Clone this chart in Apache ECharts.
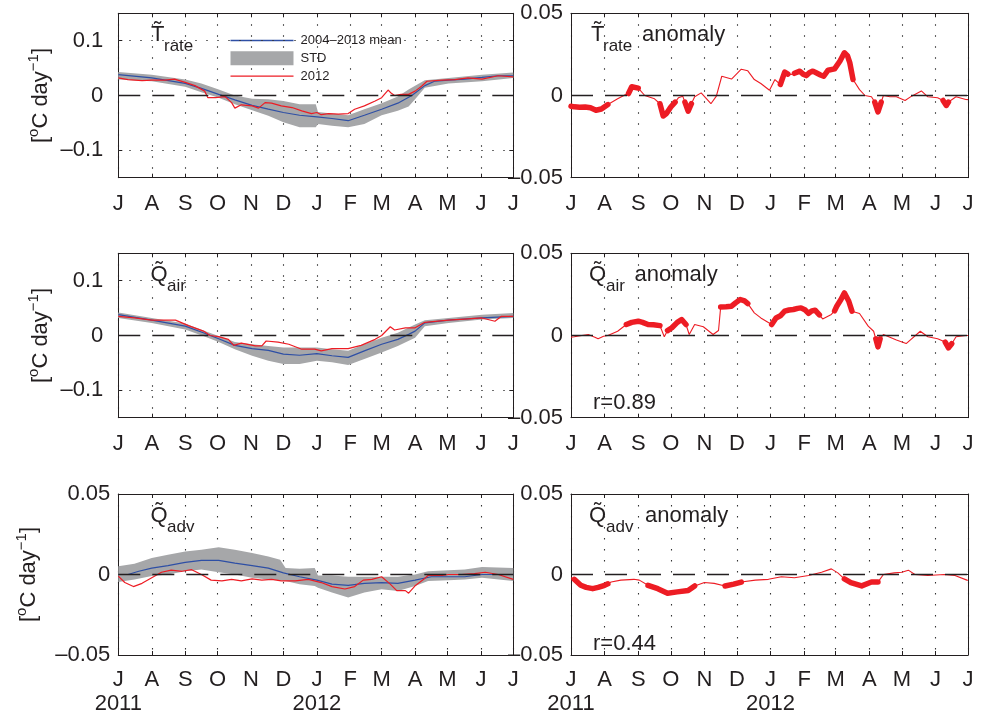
<!DOCTYPE html>
<html><head><meta charset="utf-8">
<script src="https://cdn.jsdelivr.net/npm/echarts@6/dist/echarts.min.js"></script>
<style>html,body{margin:0;padding:0;background:#fff}#c{width:981px;height:716px}</style>
</head><body><div id="c"></div>
<script>
// ---------- tick labels ----------
const monthLetters = ['J','A','S','O','N','D','J','F','M','A','M','J','J'];
const monthStartDays = [0,31,62,92,123,153,184,215,244,275,305,336,366]; // days since 1 Jul 2011
const yearLabels = {0:'2011', 184:'2012'};
const yTicksWide = [-0.1, 0, 0.1];
const yTicksNarrow = [-0.05, 0, 0.05];

// ---------- T_rate ----------
const trateMean = [[0,0.038],[31,0.032],[62,0.022],[77,0.013],[93,0.002],[108,-0.008],[124,-0.018],[139,-0.025],[153,-0.031],[168,-0.036],[184,-0.039],[198,-0.042],[213,-0.046],[228,-0.036],[244,-0.025],[259,-0.014],[272,0.000],[284,0.018],[293,0.026],[306,0.028],[321,0.030],[337,0.033],[352,0.036],[366,0.036]];
const trateBandDays  = [0,31,62,77,93,108,124,139,153,168,183,185,198,213,228,244,259,269,275,284,306,337,366];
const trateBandUpper = [0.043,0.038,0.029,0.022,0.011,0.000,-0.006,-0.007,-0.010,-0.016,-0.016,-0.030,-0.033,-0.036,-0.025,-0.014,-0.002,0.011,0.018,0.028,0.032,0.038,0.042];
const trateBandLower = [0.029,0.026,0.016,0.006,-0.004,-0.016,-0.027,-0.037,-0.049,-0.058,-0.058,-0.052,-0.055,-0.058,-0.052,-0.036,-0.028,-0.020,-0.007,0.014,0.022,0.026,0.032];
const trate2012 = [[0,0.032],[9,0.029],[22,0.027],[31,0.028],[43,0.028],[52,0.030],[62,0.024],[71,0.018],[80,0.008],[83,-0.004],[90,-0.004],[99,-0.002],[105,-0.013],[108,-0.023],[114,-0.017],[124,-0.019],[130,-0.023],[136,-0.013],[142,-0.014],[151,-0.019],[161,-0.022],[170,-0.028],[179,-0.033],[184,-0.031],[188,-0.035],[195,-0.033],[204,-0.034],[213,-0.033],[219,-0.025],[228,-0.019],[238,-0.010],[244,-0.004],[250,0.010],[253,0.004],[256,0.000],[262,0.002],[269,0.002],[275,0.008],[281,0.017],[286,0.026],[300,0.028],[312,0.029],[324,0.032],[337,0.030],[352,0.036],[366,0.034]];
const trateAnom = [[0,-0.0065],[3,-0.0069],[8,-0.0072],[13,-0.007],[18,-0.0075],[23,-0.009],[28,-0.0082],[34,-0.0055],[43,-0.002],[50,0.0005],[53,0.0012],[56,0.0053],[62,0.0045],[68,0],[77,-0.002],[82,-0.005],[85,-0.0125],[88,-0.011],[92,-0.007],[96,-0.004],[99,-0.0014],[103,-0.0004],[105,-0.004],[108,-0.0095],[111,-0.005],[114,-0.0008],[120,0.0016],[129,-0.005],[134,-0.0004],[139,0.0117],[148,0.010],[157,0.016],[163,0.015],[169,0.0097],[175,0.0073],[183,0.0032],[188,0.0097],[193,0.0067],[197,0.0142],[200,0.013],[203,0.0128],[206,0.0135],[211,0.0148],[214,0.013],[217,0.0121],[220,0.014],[223,0.0148],[226,0.0138],[230,0.0125],[233,0.0117],[237,0.0154],[243,0.0162],[248,0.021],[252,0.026],[255,0.024],[257,0.020],[260,0.0097],[266,0.0036],[271,0],[277,-0.0008],[280,-0.004],[283,-0.010],[286,-0.004],[288,0],[294,-0.0008],[300,-0.0008],[308,-0.003],[314,-0.0004],[323,0.0028],[329,-0.0008],[338,-0.0014],[343,-0.003],[346,-0.006],[348,-0.004],[355,-0.0008],[364,-0.0024],[366,-0.0025]];
const trateAnomSig = [[0,34],[53,62],[82,96],[105,111],[193,200],[206,214],[217,230],[233,260],[280,286],[343,348]];

// ---------- Q_air ----------
const qairMean = [[0,0.038],[31,0.028],[62,0.017],[80,0.004],[93,-0.006],[108,-0.018],[124,-0.024],[139,-0.027],[153,-0.034],[168,-0.036],[184,-0.033],[198,-0.037],[213,-0.040],[228,-0.028],[244,-0.016],[259,-0.007],[269,0.002],[275,0.008],[284,0.023],[306,0.028],[337,0.032],[366,0.035]];
const qairBandDays  = [0,31,62,80,93,108,124,139,153,168,184,198,213,228,244,259,275,284,306,337,366];
const qairBandUpper = [0.042,0.032,0.022,0.008,-0.001,-0.012,-0.016,-0.019,-0.022,-0.022,-0.022,-0.025,-0.028,-0.016,-0.004,0.005,0.020,0.028,0.032,0.038,0.041];
const qairBandLower = [0.032,0.023,0.011,-0.002,-0.012,-0.025,-0.037,-0.046,-0.052,-0.052,-0.046,-0.049,-0.054,-0.043,-0.031,-0.019,-0.004,0.017,0.023,0.029,0.032];
const qair2012 = [[0,0.035],[15,0.032],[31,0.028],[53,0.028],[65,0.018],[79,0.008],[85,0.000],[93,-0.002],[102,-0.007],[107,-0.018],[114,-0.014],[127,-0.019],[133,-0.019],[137,-0.010],[148,-0.012],[158,-0.016],[170,-0.025],[182,-0.025],[188,-0.028],[198,-0.024],[213,-0.024],[225,-0.018],[238,-0.007],[244,0.000],[252,0.016],[256,0.010],[266,0.014],[275,0.014],[284,0.024],[306,0.028],[321,0.030],[337,0.032],[349,0.026],[355,0.035],[366,0.035]];
const qairAnom = [[0,-0.001],[3,-0.0008],[10,0],[16,0.0006],[22,-0.001],[25,-0.002],[30,-0.0005],[34,0],[43,0.0026],[51,0.0067],[56,0.008],[62,0.0087],[66,0.008],[71,0.0067],[76,0.0065],[82,0.006],[86,-0.0008],[89,0.003],[93,0.0047],[98,0.008],[102,0.0097],[106,0.0067],[109,0.0006],[114,0.0067],[122,0.0053],[131,0.0006],[136,0.003],[138,0.0174],[143,0.0175],[148,0.0178],[152,0.020],[156,0.0219],[160,0.021],[163,0.0194],[169,0.0138],[175,0.0107],[185,0.0067],[189,0.0107],[193,0.012],[197,0.0148],[201,0.0155],[205,0.0158],[209,0.0165],[212,0.0168],[216,0.0155],[219,0.0134],[222,0.015],[225,0.0154],[229,0.0125],[232,0.0101],[240,0.0128],[243,0.015],[245,0.0178],[249,0.022],[252,0.0259],[256,0.021],[259,0.0148],[266,0.0134],[274,0.0057],[279,0.0026],[281,-0.002],[283,-0.0069],[285,-0.002],[288,0.0006],[300,-0.0028],[309,-0.0049],[322,0.0026],[329,-0.0008],[338,-0.002],[345,-0.004],[348,-0.0075],[351,-0.005],[355,-0.0008],[364,0],[366,0]];
const qairAnomSig = [[51,82],[89,106],[138,163],[185,216],[219,229],[243,259],[281,285],[345,351]];

// ---------- Q_adv ----------
const qadvMean = [[0,0],[9,0],[19,0.002],[31,0.004],[46,0.0055],[62,0.0075],[77,0.0088],[93,0.0088],[108,0.0071],[124,0.0055],[139,0.004],[153,0.001],[168,-0.0014],[184,-0.0035],[198,-0.006],[213,-0.0067],[228,-0.0055],[244,-0.005],[259,-0.0055],[275,-0.0035],[290,-0.0014],[306,-0.0014],[321,-0.0014],[337,0],[366,0]];
const qadvBandDays  = [0,15,31,46,62,77,93,108,124,139,150,155,168,182,185,198,213,228,244,259,275,287,306,321,337,366];
const qadvBandUpper = [0.0051,0.0067,0.0102,0.0122,0.0143,0.0153,0.0169,0.0153,0.0133,0.0112,0.0092,0.0041,0.0035,0.0041,-0.0006,-0.0006,-0.0014,-0.0014,-0.0014,-0.0014,0,0.002,0.0027,0.0031,0.0047,0.0041];
const qadvBandLower = [-0.0047,-0.0031,-0.001,0,0.002,0.0031,0.0014,0,-0.002,-0.0031,-0.0035,-0.0041,-0.0061,-0.0071,-0.0082,-0.0112,-0.0143,-0.0112,-0.0092,-0.0102,-0.0071,-0.0041,-0.0035,-0.0031,-0.002,-0.0041];
const qadv2012 = [[0,-0.001],[6,-0.005],[14,-0.0075],[22,-0.0055],[31,-0.002],[40,0.0014],[49,0.0027],[59,0.002],[68,0.003],[77,0],[86,-0.0035],[96,-0.004],[105,-0.003],[114,-0.004],[124,-0.0027],[133,-0.0035],[142,-0.003],[151,-0.004],[164,-0.004],[176,-0.003],[188,-0.005],[198,-0.0075],[210,-0.009],[219,-0.0075],[227,-0.0035],[235,-0.003],[244,-0.0014],[252,-0.006],[258,-0.010],[266,-0.010],[269,-0.0116],[275,-0.007],[283,-0.003],[287,-0.0006],[300,-0.0006],[306,0],[318,0],[330,0.0006],[340,0.0014],[352,0],[366,-0.003]];
const qadvAnom = [[0,-0.002],[3,-0.003],[9,-0.0067],[14,-0.008],[20,-0.0088],[25,-0.008],[31,-0.0067],[34,-0.0058],[37,-0.0047],[46,-0.0035],[58,-0.003],[63,-0.0035],[71,-0.0067],[80,-0.0088],[89,-0.0116],[98,-0.0108],[108,-0.010],[114,-0.0071],[123,-0.005],[132,-0.0055],[142,-0.0071],[150,-0.006],[157,-0.0047],[170,-0.0035],[182,-0.003],[194,-0.0014],[206,-0.002],[219,-0.0006],[231,0.0014],[240,0.0035],[246,0.001],[252,-0.0027],[258,-0.005],[268,-0.0071],[277,-0.0047],[283,-0.0047],[288,0],[298,0.001],[305,0.0014],[311,0.0027],[317,0],[329,-0.0006],[344,0],[354,-0.0006],[365,-0.0035],[366,-0.0036]];
const qadvAnomSig = [[3,34],[71,114],[142,157],[252,283]];

// ---------- styling ----------
const FONT = 'Liberation Sans';
const INK = '#231f20';
const RED = '#ed1c24';
const BLUE = '#2e4fa5';
const GREY = '#a6a7a9';
const LINE_ICON = 'path://M0 0H63V1.3H0Z';

const categories = Array.from({length: 367}, (_, i) => String(i));
const isMonth = (i) => monthStartDays.indexOf(i) >= 0;

const gridLefts = [118.3, 571];
const gridWidths = [395, 397];
const gridTops = [13.3, 253.3, 494];
const gridHeights = [164.4, 164.4, 163.7];

const grids = [], xAxes = [], yAxes = [], series = [];

function addPanel(gi, row, col, cfg) {
  grids.push({left: gridLefts[col], top: gridTops[row], width: gridWidths[col], height: gridHeights[row], show: false});
  const withYears = row === 2;
  xAxes.push({
    type: 'category', gridIndex: gi, data: categories, boundaryGap: false, position: 'bottom',
    axisLine: {show: true, onZero: false, lineStyle: {color: INK, width: 1}},
    axisTick: {show: true, inside: true, length: 4, interval: (i) => isMonth(i), lineStyle: {color: INK}},
    axisLabel: {show: true, interval: (i) => isMonth(i), margin: row === 2 ? 13 : 14, fontSize: 22, lineHeight: 24,
      fontFamily: FONT, color: INK,
      formatter: (v) => { const d = Number(v); const k = monthStartDays.indexOf(d); if (k < 0) return '';
        return (withYears && yearLabels[d]) ? monthLetters[k] + '\n' + yearLabels[d] : monthLetters[k]; }},
    splitLine: {show: true, interval: (i) => isMonth(i), lineStyle: {type: [1.4, 9.6], color: '#333', width: 1.1}}
  });
  xAxes.push({
    type: 'category', gridIndex: gi, data: categories, boundaryGap: false, position: 'top',
    axisLine: {show: true, onZero: false, lineStyle: {color: INK, width: 1}},
    axisTick: {show: true, inside: true, length: 4, interval: (i) => isMonth(i), lineStyle: {color: INK}},
    axisLabel: {show: false}, splitLine: {show: false}
  });
  const yl = {
    type: 'value', gridIndex: gi, min: cfg.ymin, max: cfg.ymax, position: 'left',
    axisLine: {show: true, onZero: false, lineStyle: {color: INK, width: 1}},
    axisTick: {show: true, inside: true, length: 4, customValues: cfg.ticks, lineStyle: {color: INK}},
    axisLabel: {show: true, customValues: cfg.ticks, margin: cfg.labelMargin, fontSize: 22, fontFamily: FONT, color: INK,
      formatter: (v) => v === 0 ? '0' : String(v).replace('-', '\u2013')},
    splitLine: {show: false}
  };
  if (cfg.yName) {
    yl.name = '[{sup|o}C day{sup|\u22121}]';
    yl.nameLocation = 'middle';
    yl.nameRotate = 90;
    yl.nameGap = cfg.nameGap;
    yl.nameTextStyle = {fontSize: 22, fontFamily: FONT, color: INK, lineHeight: 30,
      rich: {sup: {fontSize: 15, lineHeight: 15, verticalAlign: 'top', fontFamily: FONT, color: INK}}};
  }
  yAxes.push(yl);
  yAxes.push({
    type: 'value', gridIndex: gi, min: cfg.ymin, max: cfg.ymax, position: 'right',
    axisLine: {show: true, onZero: false, lineStyle: {color: INK, width: 1}},
    axisTick: {show: true, inside: true, length: 4, customValues: cfg.ticks, lineStyle: {color: INK}},
    axisLabel: {show: false}, splitLine: {show: false}
  });
  const xi = gi * 2, yi = gi * 2;
  const zeroLine = {data: [{yAxis: 0, lineStyle: {type: [22, 12], color: INK, width: 1.3}}]};
  if (cfg.dotted) cfg.dotted.forEach(v => zeroLine.data.push({yAxis: v, lineStyle: {type: [1.4, 9.6], color: '#333', width: 1.1}}));
  const markLine = Object.assign({silent: true, symbol: ['none', 'none'], label: {show: false}, emphasis: {disabled: true}, animation: false}, zeroLine);

  if (cfg.kind === 'clim') {
    const bd = cfg.bandDays, up = cfg.bandUpper, lo = cfg.bandLower;
    series.push({
      type: 'custom', name: gi === 0 ? 'STD' : 'STD_' + gi, xAxisIndex: xi, yAxisIndex: yi, z: 1,
      itemStyle: {color: GREY}, silent: true,
      data: bd.map((d, i) => [d, lo[i], up[i]]), encode: {x: 0, y: [1, 2]},
      renderItem: function (params, api) {
        if (params.dataIndexInside !== 0) return null;
        const pts = [];
        for (let i = 0; i < bd.length; i++) pts.push(api.coord([bd[i], up[i]]));
        for (let i = bd.length - 1; i >= 0; i--) pts.push(api.coord([bd[i], lo[i]]));
        return {type: 'polygon', shape: {points: pts}, style: {fill: GREY}};
      },
      markLine: markLine
    });
    series.push({type: 'line', name: gi === 0 ? '2004\u20132013 mean' : 'mean_' + gi, xAxisIndex: xi, yAxisIndex: yi, z: 3,
      data: cfg.mean, symbol: 'none', lineStyle: {color: BLUE, width: 1.2}, itemStyle: {color: BLUE}, silent: true});
    series.push({type: 'line', name: gi === 0 ? '2012' : 'y2012_' + gi, xAxisIndex: xi, yAxisIndex: yi, z: 4,
      data: cfg.y2012, symbol: 'none', lineStyle: {color: RED, width: 1.2}, itemStyle: {color: RED}, silent: true});
  } else {
    const inSig = (d) => cfg.sig.some(([a, b]) => d >= a && d <= b);
    series.push({type: 'line', name: 'anom_' + gi, xAxisIndex: xi, yAxisIndex: yi, z: 3,
      data: cfg.anom, symbol: 'none', lineStyle: {color: RED, width: 1.1}, silent: true, markLine: markLine});
    series.push({type: 'line', name: 'anomsig_' + gi, xAxisIndex: xi, yAxisIndex: yi, z: 4,
      data: cfg.anom.map(([d, v]) => inSig(d) ? [d, v] : [d, '-']), connectNulls: false,
      symbol: 'none', lineStyle: {color: RED, width: 5.5, cap: 'round', join: 'round'}, silent: true});
  }
}

addPanel(0, 0, 0, {kind: 'clim', ymin: -0.15, ymax: 0.15, ticks: yTicksWide, labelMargin: 15, yName: true, nameGap: 62, dotted: [-0.1, 0.1],
  mean: trateMean, bandDays: trateBandDays, bandUpper: trateBandUpper, bandLower: trateBandLower, y2012: trate2012});
addPanel(1, 0, 1, {kind: 'anom', ymin: -0.05, ymax: 0.05, ticks: yTicksNarrow, labelMargin: 8, anom: trateAnom, sig: trateAnomSig});
addPanel(2, 1, 0, {kind: 'clim', ymin: -0.15, ymax: 0.15, ticks: yTicksWide, labelMargin: 15, yName: true, nameGap: 62, dotted: [-0.1, 0.1],
  mean: qairMean, bandDays: qairBandDays, bandUpper: qairBandUpper, bandLower: qairBandLower, y2012: qair2012});
addPanel(3, 1, 1, {kind: 'anom', ymin: -0.05, ymax: 0.05, ticks: yTicksNarrow, labelMargin: 8, anom: qairAnom, sig: qairAnomSig});
addPanel(4, 2, 0, {kind: 'clim', ymin: -0.05, ymax: 0.05, ticks: yTicksNarrow, labelMargin: 8, yName: true, nameGap: 74,
  mean: qadvMean, bandDays: qadvBandDays, bandUpper: qadvBandUpper, bandLower: qadvBandLower, y2012: qadv2012});
addPanel(5, 2, 1, {kind: 'anom', ymin: -0.05, ymax: 0.05, ticks: yTicksNarrow, labelMargin: 8, anom: qadvAnom, sig: qadvAnomSig});

// ---------- panel titles ----------
const TIL = '\u0303';
function txt(x, baseline, text, size) {
  return {type: 'text', x: x, y: baseline - 0.31 * size, silent: true,
    style: {text: text, font: size + 'px "' + FONT + '"', fill: INK, align: 'left', verticalAlign: 'middle'}};
}
const graphics = [];
const titles = [
  {row: 0, main: 'T' + TIL, sub: 'rate', lx: 151, lsx: 164, rx: 591, rsx: 603, ax: 642},
  {row: 1, main: 'Q' + TIL, sub: 'air', lx: 150.5, lsx: 167, rx: 589, rsx: 606, ax: 634.5},
  {row: 2, main: 'Q' + TIL, sub: 'adv', lx: 150.5, lsx: 167, rx: 589, rsx: 606, ax: 645}
];
titles.forEach(t => {
  const b = gridTops[t.row] + 28.3, bs = gridTops[t.row] + 38.6;
  graphics.push(txt(t.lx, b, t.main, 22), txt(t.lsx, bs, t.sub, 17));
  graphics.push(txt(t.rx, b, t.main, 22), txt(t.rsx, bs, t.sub, 17), txt(t.ax, b, 'anomaly', 22));
});
graphics.push(txt(593, gridTops[1] + gridHeights[0] - 8, 'r=0.89', 22));
graphics.push(txt(593, gridTops[2] + gridHeights[2] - 7, 'r=0.44', 22));

const chart = echarts.init(document.getElementById('c'));
chart.setOption({
  animation: false,
  backgroundColor: '#ffffff',
  textStyle: {fontFamily: FONT},
  grid: grids, xAxis: xAxes, yAxis: yAxes, series: series,
  legend: {left: 225.5, top: 29, orient: 'vertical', itemWidth: 63, itemHeight: 14, itemGap: 4.3, selectedMode: false,
    textStyle: {fontSize: 13, fontFamily: FONT, color: INK, padding: [0, 0, 0, 2]},
    data: [{name: '2004\u20132013 mean', icon: LINE_ICON, itemStyle: {color: BLUE}},
           {name: 'STD', icon: 'rect', itemStyle: {color: GREY}},
           {name: '2012', icon: LINE_ICON, itemStyle: {color: RED}}]},
  graphic: graphics
});
</script></body></html>
